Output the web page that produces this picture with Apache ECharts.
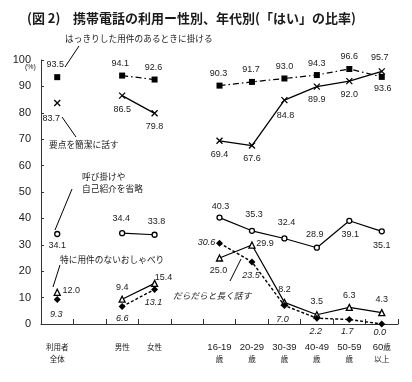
<!DOCTYPE html>
<html><head><meta charset="utf-8">
<script src="https://cdn.jsdelivr.net/npm/echarts@6/dist/echarts.min.js"></script>
<style>html,body{margin:0;padding:0;background:#fff;}#c{width:412px;height:382px;}</style>
</head><body><div id="c"></div>
<script>
const categories = ['利用者\n全体','','男性','女性','','16-19\n歳','20-29\n歳','30-39\n歳','40-49\n歳','50-59\n歳','60歳\n以上'];
const clearPurpose = [93.5,null,94.1,92.6,null,90.3,91.7,93.0,94.3,96.6,93.6];
const concise      = [83.7,null,86.5,79.8,null,69.4,67.6,84.8,89.9,92.0,95.7];
const skipGreeting = [34.1,null,34.4,33.8,null,40.3,35.3,32.4,28.9,39.1,35.1];
const chatter      = [12.0,null,9.4,15.4,null,25.0,29.9,8.2,3.5,6.3,4.3];
const longTalk     = [9.3,null,6.6,13.1,null,30.6,23.5,7.0,2.2,1.7,0.0];
const yMin = 0, yMax = 100, yStep = 10;

// label offsets (style only)
const off1 = [[-2,-13],null,[-2,-12],[-1,-12],null,[-1,-12],[-1,-12],[0,-12],[0,-12],[0,-12],[1,12]];
const off2 = [[-6,15],null,[0,14],[0,13],null,[0,14],[0,13],[1,15],[0,13],[0,13],[-2,-14]];
const off3 = [[0,12],null,[-1,-15],[2,-13],null,[1,-11],[2,-16],[2,-16],[-2,-13],[1,14],[0,14]];
const off4 = [[14,-2],null,[0,-12],[9,-6],null,[-1,13],[13,-2],[0,-13],[0,-13],[0,-12],[0,-13]];
const off5 = [[-1,15],null,[0,12],[-1,13],null,[-13,-1],[-1,14],[-2,14],[-1,13],[-2,12],[-2,8]];

const LAT = 'Liberation Sans, Arial, sans-serif';
const CJK = '"Noto Sans CJK JP", sans-serif';
const INK = '#1a1a1a';

function build(vals, offs, italic){
  return vals.map((v,i)=> v===null ? null : {
    value: v,
    label: { show:true, position:'inside', offset: offs[i], formatter: v.toFixed(1),
      fontSize: 9, fontFamily: LAT, color: INK, fontStyle: italic?'italic':'normal' }
  });
}

function mkSeries(name, vals, offs, symbol, size, fill, lineType, lineW, italic){
  return {
    name, type:'line', data: build(vals, offs, italic), connectNulls:false,
    symbol, symbolSize: size, showAllSymbol:true,
    itemStyle: { color: fill, borderColor: '#000', borderWidth: (fill==='#fff'||symbol.indexOf('path')===0)?1.3:0 },
    lineStyle: { color:'#000', width: lineW, type: lineType },
    emphasis: { disabled:true }, animation:false, z: 3
  };
}

const chart = echarts.init(document.getElementById('c'), null, {renderer:'canvas'});
const xPath = 'path://M0,0L10,10M10,0L0,10';
const annFont = '8.7px "Noto Sans CJK JP", sans-serif';

chart.setOption({
  backgroundColor:'#fff',
  animation:false,
  grid:{ left:41, right:14, top:60, bottom:58 },
  xAxis:{
    type:'category', data: categories, boundaryGap:true,
    axisLine:{ show:true, lineStyle:{ color:'#333', width:1 } },
    axisTick:{ show:true, inside:true, length:5, alignWithLabel:false, interval:0, lineStyle:{ color:'#333' } },
    axisLabel:{ interval:0, margin:17, lineHeight:12, color: INK,
      formatter: function(v){
        return v.split('\n').map(line => line.replace(/([0-9\-]+)/g,'{a|$1}').replace(/([^\x00-\x7F]+)/g,'{b|$1}')).join('\n');
      },
      rich:{ a:{ fontSize:9.5, fontFamily:LAT, color:INK, lineHeight:12 }, b:{ fontSize:7.5, fontFamily:CJK, color:INK, lineHeight:12 } }
    },
    splitLine:{ show:false }
  },
  yAxis:{
    type:'value', min:yMin, max:yMax, interval:yStep,
    axisLine:{ show:true, lineStyle:{ color:'#333', width:1 } },
    axisTick:{ show:true, inside:true, length:3, lineStyle:{ color:'#333' } },
    axisLabel:{ fontSize:11, fontFamily:LAT, color:INK, margin:10 },
    splitLine:{ show:false }
  },
  series:[
    mkSeries('はっきりした用件のあるときに掛ける', clearPurpose, off1, 'rect', 6, '#000', [6,3,1.5,3], 1.2, false),
    mkSeries('要点を簡潔に話す', concise, off2, xPath, 6, '#000', 'solid', 1.3, false),
    mkSeries('呼び掛けや自己紹介を省略', skipGreeting, off3, 'circle', 5, '#fff', 'solid', 1.2, false),
    mkSeries('特に用件のないおしゃべり', chatter, off4, 'triangle', 6, '#fff', 'solid', 1.2, false),
    mkSeries('だらだらと長く話す', longTalk, off5, 'diamond', 7, '#000', [3,2], 1.4, true)
  ],
  graphic:[
    { type:'text', left:27, top:12, style:{ text:'(図 2)', font:'bold 13px "Noto Sans CJK JP", sans-serif', fill:INK } },
    { type:'text', left:73, top:12, style:{ text:'携帯電話の利用ー性別、年代別(「はい」の比率)', font:'bold 13px "Noto Sans CJK JP", sans-serif', fill:INK } },
    { type:'text', left:25, top:64, style:{ text:'(%)', font:'7px "Liberation Sans", sans-serif', fill:INK } },
    { type:'text', x:65, y:39, style:{ text:'はっきりした用件のあるときに掛ける', font:annFont, fill:INK, textVerticalAlign:'middle' } },
    { type:'line', shape:{ x1:79, y1:46, x2:65, y2:67 }, style:{ stroke:'#000', lineWidth:1 } },
    { type:'text', x:49, y:145, style:{ text:'要点を簡潔に話す', font:annFont, fill:INK, textVerticalAlign:'middle' } },
    { type:'line', shape:{ x1:62, y1:117, x2:76, y2:137 }, style:{ stroke:'#000', lineWidth:1 } },
    { type:'text', x:82, y:177, style:{ text:'呼び掛けや', font:annFont, fill:INK, textVerticalAlign:'middle' } },
    { type:'text', x:82, y:189, style:{ text:'自己紹介を省略', font:annFont, fill:INK, textVerticalAlign:'middle' } },
    { type:'line', shape:{ x1:72, y1:189, x2:55, y2:230 }, style:{ stroke:'#000', lineWidth:1 } },
    { type:'text', x:60, y:260, style:{ text:'特に用件のないおしゃべり', font:annFont, fill:INK, textVerticalAlign:'middle' } },
    { type:'line', shape:{ x1:60, y1:265, x2:53, y2:287 }, style:{ stroke:'#000', lineWidth:1 } },
    { type:'text', x:173, y:296, style:{ text:'だらだらと長く話す', font:'italic ' + annFont, fill:INK, textVerticalAlign:'middle' } },
    { type:'line', shape:{ x1:241, y1:259, x2:230, y2:281 }, style:{ stroke:'#000', lineWidth:1 } }
  ]
});
</script>
</body></html>
